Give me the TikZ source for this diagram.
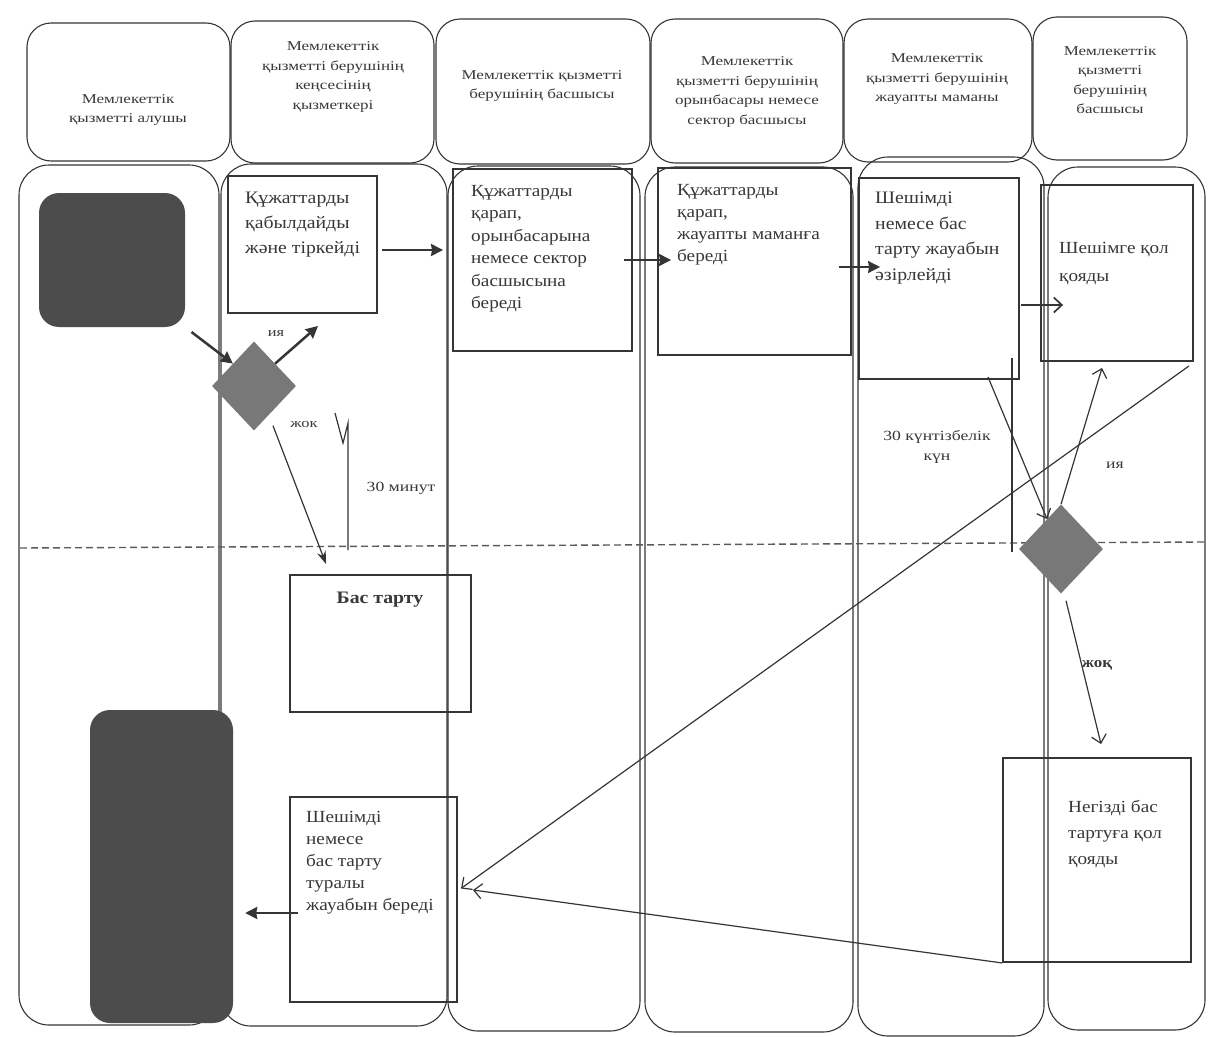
\documentclass[tikz,border=0pt]{standalone}
\usepackage{fontspec}
\setmainfont{Liberation Serif}
\newfontfamily\hdrfont[FakeStretch=1.26]{Liberation Serif}
\newfontfamily\bodyfont[FakeStretch=1.13]{Liberation Serif}
\usetikzlibrary{shapes.geometric,arrows.meta,calc}
\definecolor{lc}{HTML}{353535}
\definecolor{tc}{HTML}{383838}
\definecolor{termc}{HTML}{4C4C4C}
\definecolor{decc}{HTML}{787878}
\definecolor{dashc}{HTML}{5A5A5A}
\begin{document}
\begin{tikzpicture}[x=1pt,y=-1pt,
  hdr/.style={draw=lc, line width=1.1pt, rounded corners=24pt, inner sep=0pt},
  lane/.style={draw=lc, line width=1.1pt, rounded corners=30pt, inner sep=0pt},
  proc/.style={draw=lc, line width=1.9pt, inner sep=0pt},
  term/.style={fill=termc, rounded corners=20pt, inner sep=0pt},
  dec/.style={diamond, fill=decc, inner sep=0pt, minimum width=84pt, minimum height=89pt},
  htxt/.style={font=\hdrfont\fontsize{13.5}{19.5}\selectfont, text=tc, align=center, inner sep=0pt},
  btxt/.style={text=tc, align=left, inner sep=0pt, anchor=north west},
  ltxt/.style={font=\hdrfont\fontsize{13}{17}\selectfont, text=tc, inner sep=0pt, align=center},
  thk/.style={draw=lc, line width=2.5pt, -{Stealth[length=12pt,width=12pt,inset=1pt]}},
  thn/.style={draw=lc, line width=1.2pt, -{Straight Barb[length=8pt,width=15pt]}},
  thnf/.style={draw=lc, line width=1.2pt, -{Stealth[length=13pt,width=9pt]}},
  plain/.style={draw=lc, line width=1.2pt},
]
\useasboundingbox (0,0) rectangle (1217,1036);
\fill[white] (0,0) rectangle (1217,1036);

% header boxes
\node[hdr, minimum width=203pt, minimum height=138pt] (H1) at (128.5,92) {};
\node[hdr, minimum width=203pt, minimum height=142pt] (H2) at (332.5,92) {};
\node[hdr, minimum width=214pt, minimum height=145pt] (H3) at (543,91.5) {};
\node[hdr, minimum width=192pt, minimum height=144pt] (H4) at (747,91) {};
\node[hdr, minimum width=188pt, minimum height=143pt] (H5) at (938,90.5) {};
\node[hdr, minimum width=154pt, minimum height=143pt] (H6) at (1110,88.5) {};

\node[htxt] (H1t) at (128,110) {Мемлекеттік\\қызметті алушы};
\node[htxt] (H2t) at (333,77) {Мемлекеттік\\қызметті берушінің\\кеңсесінің\\қызметкері};
\node[htxt] (H3t) at (542,86) {Мемлекеттік қызметті\\берушінің басшысы};
\node[htxt] (H4t) at (747,92) {Мемлекеттік\\қызметті берушінің\\орынбасары немесе\\сектор басшысы};
\node[htxt] (H5t) at (937,79) {Мемлекеттік\\қызметті берушінің\\жауапты маманы};
\node[htxt] (H6t) at (1110,80) {Мемлекеттік\\қызметті\\берушінің\\басшысы};

% lanes
\node[lane, minimum width=200pt, minimum height=860pt] (L1) at (119,595) {};
\node[lane, minimum width=226pt, minimum height=862pt] (L2) at (334,595) {};
\node[lane, minimum width=192pt, minimum height=865pt] (L3) at (544,598.5) {};
\node[lane, minimum width=208pt, minimum height=865pt] (L4) at (749,599.5) {};
\node[lane, minimum width=186pt, minimum height=879pt] (L5) at (951,596.5) {};
\node[lane, minimum width=157pt, minimum height=863pt] (L6) at (1126.5,598.5) {};

% dashed separator
\draw[dashc, line width=1.4pt, dash pattern=on 7pt off 4pt] (20,548) -- (1205,542);

% terminals
\node[term, minimum width=146pt, minimum height=134pt] (T1) at (112,260) {};
\node[term, minimum width=143pt, minimum height=313pt] (T2) at (161.5,866.5) {};

% process boxes
\node[proc, minimum width=149pt, minimum height=137pt] (P1) at (302.5,244.5) {};
\node[proc, minimum width=179pt, minimum height=182pt] (P2) at (542.5,260) {};
\node[proc, minimum width=193pt, minimum height=187pt] (P3) at (754.5,261.5) {};
\node[proc, minimum width=160pt, minimum height=201pt] (P4) at (939,278.5) {};
\node[proc, minimum width=152pt, minimum height=176pt] (P5) at (1117,273) {};
\node[proc, minimum width=181pt, minimum height=137pt] (Bas) at (380.5,643.5) {};
\node[proc, minimum width=167pt, minimum height=205pt] (Sh) at (373.5,899.5) {};
\node[proc, minimum width=188pt, minimum height=204pt] (Neg) at (1097,860) {};

% decisions
\node[dec] (D1) at (254,386) {};
\node[dec] (D2) at (1061,549) {};

% box texts
\node[btxt, font=\bodyfont\fontsize{17.5}{25}\selectfont] (P1t) at (245,192) {Құжаттарды\\қабылдайды\\және тіркейді};
\node[btxt, font=\bodyfont\fontsize{17}{22.5}\selectfont] (P2t) at (471,185) {Құжаттарды\\қарап,\\орынбасарына\\немесе сектор\\басшысына\\береді};
\node[btxt, font=\bodyfont\fontsize{17}{22}\selectfont] (P3t) at (677,184) {Құжаттарды\\қарап,\\жауапты маманға\\береді};
\node[btxt, font=\bodyfont\fontsize{17.5}{25.5}\selectfont] (P4t) at (875,192) {Шешімді\\немесе бас\\тарту жауабын\\әзірлейді};
\node[btxt, font=\bodyfont\fontsize{17}{28}\selectfont] (P5t) at (1059,242) {Шешімге қол\\қояды};
\node[text=tc, inner sep=0pt, font=\bodyfont\bfseries\fontsize{17.5}{22}\selectfont] (Bast) at (380,600) {Бас тарту};
\node[btxt, font=\bodyfont\fontsize{17}{22}\selectfont] (Sht) at (306,811) {Шешімді\\немесе\\бас тарту\\туралы\\жауабын береді};
\node[btxt, font=\bodyfont\fontsize{17}{26}\selectfont] (Negt) at (1068,800) {Негізді бас\\тартуға қол\\қояды};

% labels
\node[ltxt] (ya1) at (276,334) {ия};
\node[ltxt] (jok1) at (304,424) {жок};
\node[ltxt, font=\hdrfont\fontsize{14}{17}\selectfont] (min30) at (401,488) {30 минут};
\node[ltxt, font=\hdrfont\fontsize{14}{20}\selectfont] (kun30) at (937,447) {30 күнтізбелік\\күн};
\node[ltxt, font=\hdrfont\fontsize{14}{17}\selectfont] (ya2) at (1115,465) {ия};
\node[ltxt, font=\bodyfont\bfseries\fontsize{15}{17}\selectfont] (jok2) at (1097,665) {жоқ};

% time brackets
\draw[plain] (335,413) -- (343,443) -- (348,423) -- (348,550);
\draw[plain] (1012,358) -- (1012,552);

% connectors
\coordinate (yaEnd) at (318,326);
\draw[thk, shorten <=8pt] (T1.south east) -- (D1.north west);
\draw[thk] (D1.north east) -- (yaEnd);
\draw[thnf] ([xshift=19pt,yshift=5pt]D1.south) -- ([xshift=37pt,yshift=10pt]Bas.north west);
\draw[thk] ([xshift=4pt,yshift=-5.5pt]P1.east) -- ([xshift=-9pt,yshift=10pt]P2.west);
\draw[thk] ([xshift=-9pt]P2.east) -- ([xshift=14pt,yshift=1.5pt]P3.west);
\draw[thk, line width=1.8pt] ([xshift=-13pt,yshift=-5.5pt]P3.east) -- ([xshift=22pt,yshift=11.5pt]P4.west);
\draw[thn, line width=1.7pt] ([xshift=1pt,yshift=-26.5pt]P4.east) -- ([xshift=23pt,yshift=-32pt]P5.west);
\draw[thn] ([xshift=49pt,yshift=3pt]P4.south) -- (D2.115);
\draw[thn] (D2.north) -- ([xshift=-15pt,yshift=-6pt]P5.south);
\draw[thn] ([xshift=-5pt,yshift=-4pt]P5.south east) -- ([xshift=3pt,yshift=11pt]Sh.east);
\draw[thn] ([xshift=5pt,yshift=-7pt]D2.south) -- ([xshift=4pt,yshift=13pt]Neg.north);
\draw[thn] (Neg.south west) -- ([xshift=15pt,yshift=9.5pt]Sh.east);
\draw[thk] ([xshift=9pt,yshift=-13.5pt]Sh.west) -- ([xshift=12pt,yshift=-46.5pt]T2.east);
\end{tikzpicture}
\end{document}
